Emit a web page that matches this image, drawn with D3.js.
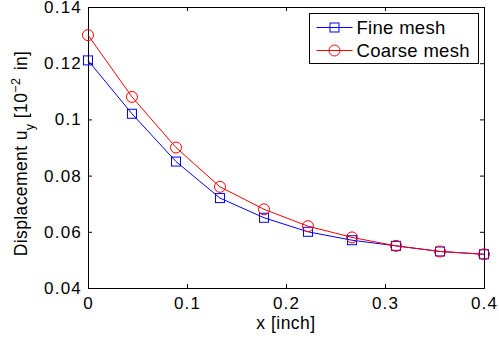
<!DOCTYPE html>
<html>
<head>
<meta charset="utf-8">
<script src="https://cdn.jsdelivr.net/npm/d3@7"></script>
<style>
  body { margin: 0; background: #fff; }
  text { font-family: "Liberation Sans", Arial, sans-serif; fill: #000; }
</style>
</head>
<body>
<div id="chart"></div>
<script>
// values
const xValues = [0, 0.0444, 0.0889, 0.1333, 0.1778, 0.2222, 0.2667, 0.3111, 0.3556, 0.4];
const fineMesh = [0.121, 0.102, 0.085, 0.072, 0.065, 0.060, 0.057, 0.055, 0.053, 0.052];
const coarseMesh = [0.130, 0.108, 0.090, 0.076, 0.068, 0.062, 0.058, 0.055, 0.053, 0.052];
const xTicks = [0, 0.1, 0.2, 0.3, 0.4];
const yTicks = [0.04, 0.06, 0.08, 0.1, 0.12, 0.14];

const width = 499, height = 339;
const margin = { left: 88, right: 15, top: 7, bottom: 51 };

const svg = d3.select("#chart").append("svg")
    .attr("width", width)
    .attr("height", height);

const x = d3.scaleLinear().domain([0, 0.4]).range([margin.left, width - margin.right]);
const y = d3.scaleLinear().domain([0.04, 0.14]).range([height - margin.bottom, margin.top]);

const fmt = d => d === 0 ? "0" : String(+d.toFixed(2));

// axes with inward ticks on all four sides
svg.append("g")
    .attr("transform", `translate(0,${y(0.04)})`)
    .call(d3.axisBottom(x).tickValues(xTicks).tickSize(-4).tickPadding(9).tickFormat(fmt))
    .call(g => g.selectAll("text").attr("font-size", 17).attr("dy", "0.71em"));
svg.append("g")
    .attr("transform", `translate(0,${y(0.14)})`)
    .call(d3.axisTop(x).tickValues(xTicks).tickSize(-4).tickFormat(""));
svg.append("g")
    .attr("transform", `translate(${x(0)},0)`)
    .call(d3.axisLeft(y).tickValues(yTicks).tickSize(-4).tickPadding(6).tickFormat(fmt))
    .call(g => g.selectAll("text").attr("font-size", 17));
svg.append("g")
    .attr("transform", `translate(${x(0.4)},0)`)
    .call(d3.axisRight(y).tickValues(yTicks).tickSize(-4).tickFormat(""));

svg.selectAll(".domain").attr("stroke", "#000");
svg.selectAll(".tick line").attr("stroke", "#000");
svg.selectAll(".tick text").attr("fill", "#000")
    .attr("font-family", "Liberation Sans, Arial, sans-serif")
    .attr("letter-spacing", 1.2);

const line = d3.line().x(d => x(d[0])).y(d => y(d[1]));

const series = [
    { name: "Fine mesh", values: fineMesh, color: "#0000ff", marker: "square" },
    { name: "Coarse mesh", values: coarseMesh, color: "#ff0000", marker: "circle" }
];

function drawMarker(g, kind, cx, cy, color) {
    if (kind === "square") {
        g.append("rect")
            .attr("x", cx - 4.5).attr("y", cy - 4.5)
            .attr("width", 9).attr("height", 9)
            .attr("fill", "none").attr("stroke", color).attr("stroke-width", 1);
    } else {
        g.append("circle")
            .attr("cx", cx).attr("cy", cy).attr("r", 5.5)
            .attr("fill", "none").attr("stroke", color).attr("stroke-width", 1);
    }
}

series.forEach(s => {
    const pts = xValues.map((xv, i) => [xv, s.values[i]]);
    const g = svg.append("g");
    g.append("path")
        .attr("d", line(pts))
        .attr("fill", "none")
        .attr("stroke", s.color)
        .attr("stroke-width", 1);
    pts.forEach(p => drawMarker(g, s.marker, x(p[0]), y(p[1]), s.color));
});

// legend
const legend = svg.append("g").attr("transform", "translate(309.5,13.5)");
legend.append("rect")
    .attr("width", 169).attr("height", 50)
    .attr("fill", "#fff").attr("stroke", "#000").attr("stroke-width", 1);
series.forEach((s, i) => {
    const ly = 14 + i * 23;
    legend.append("line")
        .attr("x1", 7).attr("x2", 43).attr("y1", ly).attr("y2", ly)
        .attr("stroke", s.color).attr("stroke-width", 1);
    drawMarker(legend, s.marker, 25, ly, s.color);
    legend.append("text")
        .attr("x", 47).attr("y", ly).attr("dy", "0.35em")
        .attr("font-size", 18.5)
        .attr("letter-spacing", 0.3)
        .text(s.name);
});

// axis titles
svg.append("text")
    .attr("x", x(0.2)).attr("y", 329)
    .attr("text-anchor", "middle")
    .attr("font-size", 17.5)
    .attr("letter-spacing", 0.5)
    .text("x [inch]");

const yTitle = svg.append("text")
    .attr("transform", `translate(27,${y(0.09) + 6}) rotate(-90)`)
    .attr("text-anchor", "middle")
    .attr("font-size", 17.5)
    .attr("letter-spacing", 0.4);
yTitle.append("tspan").text("Displacement u");
yTitle.append("tspan").attr("baseline-shift", "sub").attr("font-size", 12.5).text("y");
yTitle.append("tspan").text(" [10");
yTitle.append("tspan").attr("baseline-shift", "super").attr("font-size", 12.5).text("\u22122");
yTitle.append("tspan").attr("dx", 2).text(" in]");
</script>
</body>
</html>
